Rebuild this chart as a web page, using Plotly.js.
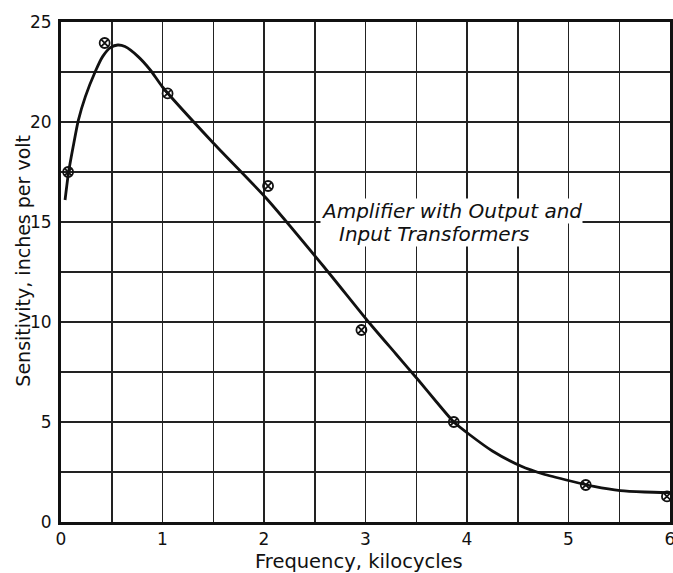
<!DOCTYPE html>
<html><head><meta charset="utf-8">
<script src="https://cdn.plot.ly/plotly-3.0.1.min.js"></script>
<style>body{margin:0;background:#fff}#c{width:673px;height:573px}</style>
</head><body><div id="c"></div>
<script>
// measured points
const ptFreq = [0.07, 0.43, 1.05, 2.04, 2.96, 3.87, 5.17, 5.97];
const ptSens = [17.5, 23.95, 21.43, 16.8, 9.6, 5.0, 1.85, 1.28];
// smooth drawn curve
const curveFreq = [0.04, 0.075, 0.12, 0.17, 0.24, 0.34, 0.41, 0.49, 0.56, 0.63, 0.76, 0.88, 1.0, 1.5, 2.02, 2.6, 3.03, 3.3, 3.52, 3.7, 3.87, 4.03, 4.25, 4.53, 4.75, 5.02, 5.25, 5.51, 5.75, 6.0];
const curveSens = [16.1, 17.5, 18.77, 20.07, 21.27, 22.55, 23.27, 23.73, 23.85, 23.77, 23.27, 22.6, 21.75, 18.95, 16.2, 12.7, 10.0, 8.4, 7.1, 6.0, 5.0, 4.35, 3.55, 2.8, 2.4, 2.05, 1.78, 1.57, 1.5, 1.47];
const xTicks = [0, 1, 2, 3, 4, 5, 6];
const yTicks = [0, 5, 10, 15, 20, 25];
const xTitle = "Frequency, kilocycles";
const yTitle = "Sensitivity, inches per volt";
const label1 = "Amplifier with Output and";
const label2 = "Input Transformers";

const fam = "DejaVu Sans, sans-serif";
Plotly.newPlot("c", [
  {x: curveFreq, y: curveSens, mode: "lines", line: {color: "#111", width: 2.8, shape: "spline", smoothing: 0.6}, hoverinfo: "skip"},
  {x: ptFreq, y: ptSens, mode: "markers", marker: {symbol: "circle-x-open", size: 10, color: "#111", line: {width: 1.8, color: "#111"}}}
], {
  width: 673, height: 573,
  margin: {l: 61, r: 3, t: 22, b: 51},
  showlegend: false,
  paper_bgcolor: "#fff", plot_bgcolor: "#fff",
  font: {family: fam, size: 17, color: "#111"},
  xaxis: {range: [0, 6], tickvals: xTicks, ticks: "", showgrid: true, gridcolor: "#222", gridwidth: 1.5,
    minor: {dtick: 0.5, showgrid: true, gridcolor: "#222", gridwidth: 1.5, ticks: ""},
    showline: true, linecolor: "#111", linewidth: 3, mirror: true, zeroline: false,
    ticklabeloverflow: "allow", ticklabelstandoff: 0,
    tickfont: {size: 17, family: fam}},
  yaxis: {range: [0, 25], tickvals: yTicks, ticks: "", showgrid: true, gridcolor: "#222", gridwidth: 1.5,
    minor: {dtick: 2.5, showgrid: true, gridcolor: "#222", gridwidth: 1.5, ticks: ""},
    showline: true, linecolor: "#111", linewidth: 3, mirror: true, zeroline: false,
    ticklabelstandoff: 3,
    tickfont: {size: 17, family: fam}},
  annotations: [
    {x: -0.063, y: 0.522, xref: "paper", yref: "paper", xanchor: "center", yanchor: "middle", textangle: -90,
     text: yTitle, showarrow: false, font: {size: 19, family: fam, color: "#111"}},
    {x: 0.489, y: -0.079, xref: "paper", yref: "paper", xanchor: "center", yanchor: "middle",
     text: xTitle, showarrow: false, font: {size: 19.5, family: fam, color: "#111"}},
    {x: 2.55, y: 15.55, xref: "x", yref: "y", xanchor: "left", yanchor: "middle", text: label1, showarrow: false,
     bgcolor: "#fff", borderpad: 0, font: {size: 20, style: "italic", family: fam, color: "#111"}},
    {x: 2.73, y: 14.4, xref: "x", yref: "y", xanchor: "left", yanchor: "middle", text: label2, showarrow: false,
     bgcolor: "#fff", borderpad: 0, font: {size: 20, style: "italic", family: fam, color: "#111"}}
  ]
}, {staticPlot: true});
</script></body></html>
